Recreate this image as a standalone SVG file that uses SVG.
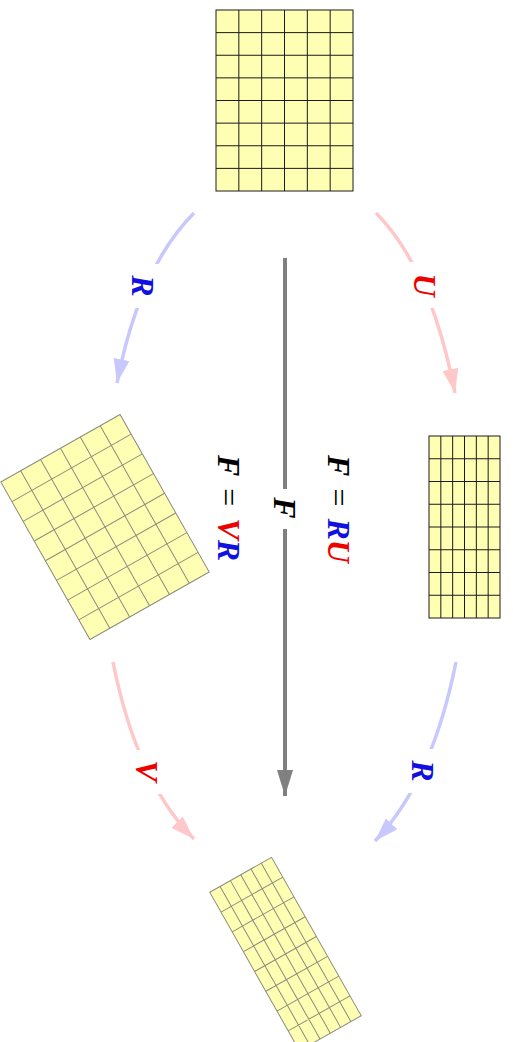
<svg xmlns="http://www.w3.org/2000/svg" width="513" height="1042" viewBox="0 0 513 1042">
<style>
.cell{fill:#ffffb4}
.lbl{font-family:"Liberation Serif",serif;font-weight:bold;font-style:italic;font-size:32px;text-anchor:middle;dominant-baseline:central}
.eqs{font-style:normal;font-weight:normal}
.blue{fill:#1010e0}
.red{fill:#ee0000}
.blk{fill:#000}
.bg{fill:#fff}
.arrB{fill:none;stroke:#c8c8ff;stroke-width:3.5}
.arrR{fill:none;stroke:#ffc8c8;stroke-width:3.5}
.arrG{fill:none;stroke:#808080;stroke-width:4}
.dark{stroke:#1a1a1a}
.dark .out{stroke-width:2.2}
.dark .ln{stroke-width:1.5}
.grey{stroke:#8c8c7c}
.grey .out{stroke-width:2}
.grey .ln{stroke-width:1.3}
</style>
<defs>
<marker id="hB" markerUnits="userSpaceOnUse" markerWidth="26" markerHeight="18" refX="24" refY="8" orient="auto" viewBox="0 0 26 18"><path d="M0,0 L24,8 L0,16 z" fill="#c8c8ff"/></marker>
<marker id="hR" markerUnits="userSpaceOnUse" markerWidth="26" markerHeight="18" refX="24" refY="8" orient="auto" viewBox="0 0 26 18"><path d="M0,0 L24,8 L0,16 z" fill="#ffc8c8"/></marker>
<marker id="hG" markerUnits="userSpaceOnUse" markerWidth="28" markerHeight="18" refX="26" refY="8" orient="auto" viewBox="0 0 28 18"><path d="M0,0 L26,8 L0,16 z" fill="#808080"/></marker>
<g id="gridSq">
<rect class="cell out" x="-68.5" y="-90.5" width="137" height="181"/>
<path class="ln" fill="none" d="M-45.67,-90.5V90.5M-22.83,-90.5V90.5M0,-90.5V90.5M22.83,-90.5V90.5M45.67,-90.5V90.5M-68.5,-67.88H68.5M-68.5,-45.25H68.5M-68.5,-22.63H68.5M-68.5,0H68.5M-68.5,22.63H68.5M-68.5,45.25H68.5M-68.5,67.88H68.5"/>
</g>
<g id="gridTall">
<rect class="cell out" x="-35.5" y="-91" width="71" height="182"/>
<path class="ln" fill="none" d="M-23.67,-91V91M-11.83,-91V91M0,-91V91M11.83,-91V91M23.67,-91V91M-35.5,-68.25H35.5M-35.5,-45.5H35.5M-35.5,-22.75H35.5M-35.5,0H35.5M-35.5,22.75H35.5M-35.5,45.5H35.5M-35.5,68.25H35.5"/>
</g>
</defs>

<g id="connectors">
<path class="arrB" d="M194,213 Q139.5,267.5 117,383" marker-end="url(#hB)"/>
<path class="arrR" d="M376,213 Q430.5,267.5 455,393" marker-end="url(#hR)"/>
<path class="arrR" d="M113,662 Q137,782 194,839" marker-end="url(#hR)"/>
<path class="arrB" d="M456,662 Q432,782 375,841" marker-end="url(#hB)"/>
<path class="arrG" d="M285,258 V796" marker-end="url(#hG)"/>
</g>

<g id="node-reference">
<use href="#gridSq" class="dark" transform="translate(284.5,100.5)"/>
</g>
<g id="node-stretched">
<use href="#gridTall" class="dark" transform="translate(464.5,527)"/>
</g>
<g id="node-rotated">
<use href="#gridSq" class="grey" transform="translate(105,527) rotate(-29.5)"/>
</g>
<g id="node-final">
<use href="#gridTall" class="grey" transform="translate(285.5,954) rotate(-29.5)"/>
</g>

<g id="labels">
<rect class="bg" x="127" y="264" width="32" height="44"/>
<text class="lbl blue" transform="translate(143,286) rotate(90)">R</text>
<rect class="bg" x="409" y="262" width="32" height="46"/>
<text class="lbl red" transform="translate(425,285) rotate(90)">U</text>
<rect class="bg" x="131" y="750" width="32" height="44"/>
<text class="lbl red" transform="translate(147,771) rotate(90)">V</text>
<rect class="bg" x="407" y="749" width="32" height="44"/>
<text class="lbl blue" transform="translate(423,771) rotate(90)">R</text>
<rect class="bg" x="270" y="489" width="30" height="40"/>
<text class="lbl blk" transform="translate(285,508) rotate(90)">F</text>
<text class="lbl" transform="translate(339,509) rotate(90)"><tspan class="blk">F</tspan><tspan class="blk eqs" dx="12">=</tspan><tspan class="blue" dx="12">R</tspan><tspan class="red">U</tspan></text>
<text class="lbl" transform="translate(229,508) rotate(90)"><tspan class="blk">F</tspan><tspan class="blk eqs" dx="12">=</tspan><tspan class="red" dx="12">V</tspan><tspan class="blue">R</tspan></text>
</g>
</svg>
